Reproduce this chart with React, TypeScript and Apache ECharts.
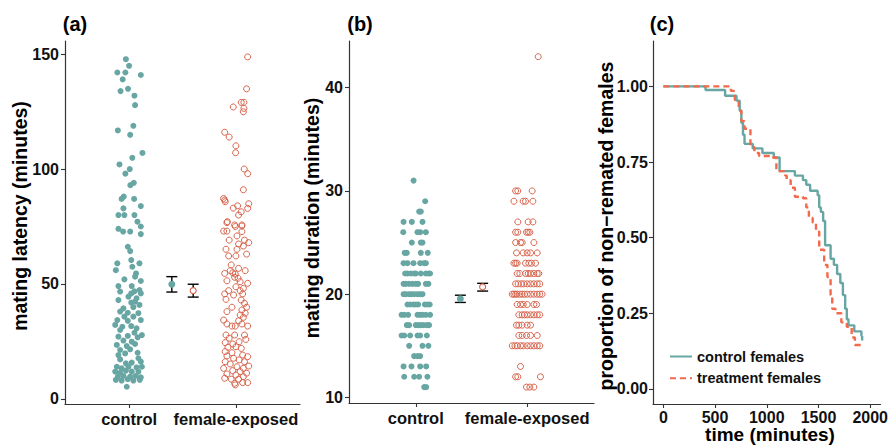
import React, { useEffect, useRef } from "react";
import * as echarts from "echarts";

const FONT = "'Liberation Sans', Arial, Helvetica, sans-serif";
const TEAL = "#68a6a3";
const RED = "#d8634b";
const DASH_RED = "#f4694b";

// ---------- panel (a): mating latency, [jitter offset, minutes] ----------
const latencyControl: [number, number][] = [
  [-0.03, 147.8], [0, 144.9], [-0.11, 142], [-0.035, 142], [0.11, 140.9], [-0.06, 139],
  [-0.08, 133.9], [-0.01, 134.9], [0.05, 131.9], [0.056, 127.8], [0.04, 118.8], [-0.105, 116.8],
  [0.01, 114.9], [0.125, 107], [0.03, 104.9], [-0.09, 102], [0.006, 100], [-0.035, 98],
  [0.012, 93], [0.044, 94], [-0.07, 87], [-0.05, 88], [0.047, 87], [0.11, 83.9], [-0.053, 82.9],
  [-0.1, 80], [-0.044, 80], [0.05, 80], [0.078, 77.1],
  [0.11, 75], [-0.1, 74], [-0.056, 72.8], [0.01, 72.8], [0.11, 71.7], [-0.012, 66.2], [0.01, 64.3],
  [0.02, 60.4], [-0.11, 59], [0.097, 59], [0.03, 57.5], [-0.124, 56], [0.065, 54.6], [0.056, 53.2],
  [-0.044, 52], [0.11, 51.3], [-0.1, 49.1], [0.025, 49.1], [0.097, 47.4], [-0.084, 46.7],
  [0.02, 45.9], [0.05, 46.8], [0.11, 45.9], [-0.006, 44.5], [0.07, 43.8], [-0.1, 43], [0.02, 41.9],
  [0.056, 42.3], [0.097, 40.9], [-0.053, 39.4], [0.04, 39.9], [-0.084, 38], [-0.012, 37.5],
  [0.087, 37.3], [-0.044, 35.8], [0.04, 35.8], [-0.11, 34.3], [-0.012, 34], [0.11, 34.3],
  [-0.13, 32.2], [-0.063, 31.4], [0.02, 31.7], [0.07, 30.7], [-0.084, 30], [0.05, 28.8],
  [0.12, 27.8], [-0.1, 27.1], [-0.012, 27.4], [0.08, 26.8], [-0.053, 25.4], [0.025, 24.9],
  [-0.115, 23.5], [-0.022, 23], [0.056, 23.9], [-0.084, 21.3], [0.01, 21.6], [-0.1, 19.1],
  [-0.037, 19.8], [0.08, 20.1], [-0.084, 17.2], [0.087, 17.7], [0.11, 16.2], [-0.03, 15.5],
  [0.025, 15.8], [-0.115, 14], [-0.07, 13.3], [-0.006, 14], [0.07, 13.7], [0.12, 14],
  [-0.13, 11.9], [-0.084, 11.4], [-0.03, 12.3], [0.025, 11.9], [0.087, 11.9], [-0.105, 9.7],
  [-0.053, 10], [0.01, 9.7], [0.063, 10], [0.11, 9.4], [-0.124, 8.3], [-0.07, 8], [-0.012, 8.6],
  [0.04, 8], [0.1, 8.3], [-0.022, 5.3],
];

const latencyExposed: [number, number][] = [
  [0.11, 148.8], [0.1, 134.9], [0.05, 129], [0.075, 129], [-0.025, 127], [0.075, 126.4],
  [0.07, 124.9], [-0.105, 116], [-0.063, 113.9], [0, 110.1], [-0.003, 107.1], [0.078, 100],
  [0.11, 98], [0.07, 91], [-0.115, 87.2], [-0.105, 86.5], [-0.1, 85.8], [0.016, 84],
  [-0.025, 83], [0.12, 84.9], [0.11, 82.9], [0.05, 81.4], [0.025, 80], [-0.08, 77.1],
  [-0.012, 75.7], [0.056, 75.7],
  [-0.084, 76.7], [-0.006, 75], [0.056, 75.2], [-0.115, 73], [-0.084, 73], [0.056, 72.8],
  [0.01, 70.9], [-0.063, 69.1], [0.08, 69.1], [0.12, 68], [0.025, 67.4], [0.07, 66.5],
  [-0.093, 65.1], [0.01, 65.1], [-0.068, 62.2], [0, 62.2], [0.1, 63], [-0.044, 58.3],
  [0.025, 56.8], [-0.105, 54.6], [-0.053, 55.8], [-0.03, 54.9], [-0.006, 54.3], [0.087, 55.8],
  [-0.012, 52.9], [0.02, 52.5], [-0.084, 51.4], [0.04, 51], [0.11, 50.3], [0, 48.8], [0.07, 48.1],
  [-0.068, 47.1], [0.04, 47.1], [-0.105, 45.7], [-0.022, 45.2], [0.063, 45.7], [-0.093, 43.3],
  [0.05, 43], [0.08, 41.6], [-0.037, 39.9], [0.1, 39.9], [0.056, 38.7], [-0.084, 38],
  [0.087, 37.3], [0.04, 36.5], [0.07, 35.5], [-0.115, 34.3], [0.025, 34], [-0.084, 32.6],
  [-0.037, 31.7], [0.056, 32.6], [0.11, 31.7], [-0.006, 31.7], [-0.093, 27.8], [-0.012, 27.8],
  [0.08, 27.8], [-0.063, 26.4], [0.093, 25.9], [-0.1, 24.5], [-0.03, 23.9], [0.03, 24.9],
  [-0.075, 22.5], [0, 22.7], [0.05, 22], [-0.1, 20.6], [-0.037, 20.1], [-0.084, 18.7],
  [0.063, 19.1], [0.11, 18.4], [-0.022, 17.7], [0.03, 17], [0.08, 16.2], [-0.1, 16.2],
  [-0.053, 15.2], [0.12, 14.3], [0.01, 14], [-0.115, 13.3], [0.07, 13.3], [-0.03, 12.3],
  [0.04, 11.9], [-0.084, 10.9], [0.1, 11.2], [0, 10.4], [0.07, 9.7], [-0.105, 9], [-0.044, 8.6],
  [0.025, 8.6], [-0.012, 6.8], [0.063, 7.1], [0.11, 7.1], [-0.006, 6.1],
];

// mean, lower, upper
const latencyMeans: [number, number, number][] = [
  [49.9, 46.5, 53.2],
  [47.1, 44.3, 49.9],
];

// ---------- panel (b): mating duration, [minutes, jitter offsets] ----------
const durationControlRows: [number, number[]][] = [
  [31, [-0.02]],
  [29, [0.084]],
  [28, [0.03, 0.045]],
  [27, [-0.11, -0.036, 0.06]],
  [26, [-0.113, 0.015, 0.039, 0.09]],
  [25, [-0.036, 0.045, 0.06]],
  [24, [-0.1, -0.081, 0.045, 0.107]],
  [23, [-0.11, -0.075, -0.021, 0.039, 0.075, 0.09]],
  [22, [-0.096, -0.075, -0.045, -0.015, 0, 0.045, 0.09, 0.113, 0.128]],
  [21, [-0.11, -0.09, -0.06, -0.03, 0, 0.021, 0.09, 0.113]],
  [20, [-0.11, -0.09, -0.06, -0.039, -0.015, 0.015, 0.039, 0.06]],
  [19, [-0.075, -0.051, -0.021, 0, 0.021, 0.081, 0.104, 0.125]],
  [18, [-0.128, -0.104, -0.069, 0.015, 0.039, 0.06, 0.09, 0.128]],
  [17, [-0.081, -0.06, 0, 0.021, 0.045, 0.069, 0.099, 0.119]],
  [16, [-0.128, -0.104, -0.051, 0.015, 0.039, 0.099]],
  [15, [-0.06, 0.06, 0.113]],
  [14, [-0.015, 0.015, 0.039]],
  [13, [-0.11, -0.039, 0.039, 0.093]],
  [12, [-0.104, -0.015, 0.03, 0.104]],
  [11, [0.075, 0.093]],
];

const durationExposedRows: [number, number[]][] = [
  [43, [0.099]],
  [30, [-0.104, -0.084, 0.045]],
  [29, [-0.119, -0.036, -0.015, 0.051]],
  [27, [-0.084, 0.009, 0.051]],
  [26, [-0.104, -0.084, -0.006, 0.009, 0.024]],
  [25, [-0.104, -0.06, -0.045, 0.06]],
  [24, [-0.096, -0.036, 0, 0.03, 0.09]],
  [23, [-0.119, -0.104, -0.09, -0.015, 0.015, 0.039, 0.075]],
  [22, [-0.09, -0.066, -0.015, 0.009, 0.03, 0.06, 0.09, 0.104]],
  [21, [-0.104, -0.081, -0.054, -0.03, 0, 0.03, 0.06, 0.09, 0.113]],
  [20, [-0.134, -0.119, -0.104, -0.09, -0.066, -0.045, -0.024, 0, 0.03, 0.06, 0.09, 0.113, 0.134]],
  [19, [-0.09, -0.06, -0.036, 0, 0.06, 0.084]],
  [18, [-0.075, -0.045, -0.024, 0, 0.03, 0.06, 0.09, 0.113]],
  [17, [-0.096, -0.075, -0.045, 0, 0.03]],
  [16, [-0.075, -0.045, -0.006, 0.03, 0.09]],
  [15, [-0.134, -0.11, -0.09, -0.06, -0.036, 0, 0.03, 0.06, 0.09, 0.113]],
  [13, [-0.06]],
  [12, [-0.104, -0.084, 0.119]],
  [11, [-0.006, 0.024, 0.06]],
];

const durationMeans: [number, number, number][] = [
  [19.55, 19.2, 19.9],
  [20.7, 20.3, 21.05],
];

// ---------- panel (c): proportion of non-remated females ----------
const timeControl = [0, 408, 597, 707, 738, 754, 770, 785, 864, 958, 1068, 1124, 1272, 1350, 1382, 1419, 1492, 1507, 1523, 1545, 1564, 1617, 1649, 1680, 1711, 1736, 1758, 1774, 1790, 1846, 1915, 1922];
const survControl = [1, 0.988, 0.969, 0.953, 0.92, 0.88, 0.84, 0.81, 0.795, 0.78, 0.765, 0.72, 0.705, 0.69, 0.675, 0.655, 0.64, 0.6, 0.585, 0.555, 0.475, 0.43, 0.41, 0.38, 0.35, 0.31, 0.265, 0.23, 0.21, 0.19, 0.175, 0.16];
const timeTreatment = [0, 653, 691, 729, 754, 785, 842, 880, 926, 1052, 1093, 1178, 1193, 1231, 1272, 1350, 1382, 1407, 1444, 1476, 1507, 1555, 1586, 1617, 1633, 1664, 1721, 1774, 1821, 1852, 1915];
const survTreatment = [1, 0.985, 0.955, 0.92, 0.885, 0.86, 0.8, 0.78, 0.77, 0.765, 0.72, 0.705, 0.69, 0.665, 0.635, 0.63, 0.6, 0.565, 0.55, 0.52, 0.46, 0.41, 0.37, 0.31, 0.265, 0.25, 0.22, 0.205, 0.17, 0.145, 0.145];

const groupLabels = ["control", "female-exposed"];
const groupPos = [1, 2];
const meanPos = [1.4, 1.6];
const latencyTicks = [0, 50, 100, 150];
const durationTicks = [10, 20, 30, 40];
const propTicks = [0, 0.25, 0.5, 0.75, 1];
const timeTicks = [0, 500, 1000, 1500, 2000];
const legendNames = ["control females", "treatment females"];

const lineAxis = { show: true, onZero: false, lineStyle: { color: "#333", width: 1.2 } };
const labelStyle = { color: "#111", fontSize: 16, fontWeight: "bold" as const, fontFamily: FONT };

function catXAxis(gridIndex: number) {
  return {
    type: "value",
    gridIndex,
    min: 0.4,
    max: 2.6,
    axisLine: lineAxis,
    splitLine: { show: false },
    axisTick: { show: true, length: 4, customValues: groupPos, lineStyle: { color: "#333", width: 1.1 } },
    axisLabel: {
      ...labelStyle,
      fontSize: 16.5,
      margin: 6,
      customValues: groupPos,
      formatter: (v: number) => groupLabels[Math.round(v) - 1] ?? "",
    },
  };
}

function valAxis(gridIndex: number, min: number, max: number, ticks: number[], fmt?: (v: number) => string, margin = 6) {
  return {
    type: "value",
    gridIndex,
    min,
    max,
    axisLine: lineAxis,
    splitLine: { show: false },
    axisTick: { show: true, length: 4, customValues: ticks, lineStyle: { color: "#333", width: 1.1 } },
    axisLabel: { ...labelStyle, margin, customValues: ticks, formatter: fmt ?? ((v: number) => String(v)) },
  };
}

const rowsToPoints = (rows: [number, number[]][], center: number) =>
  rows.flatMap(([v, offs]) => offs.map((o) => [center + o, v]));

const errorBarSeries = (means: [number, number, number][], idx: number) => ({
  type: "custom",
  xAxisIndex: idx,
  yAxisIndex: idx,
  clip: false,
  z: 3,
  data: means.map((m, i) => [meanPos[i], m[0], m[1], m[2]]),
  renderItem: (_p: any, api: any) => {
    const x = api.value(0);
    const lo = api.coord([x, api.value(2)]);
    const hi = api.coord([x, api.value(3)]);
    const w = 5.5;
    const ls = { stroke: "#000", lineWidth: 1.4 };
    return {
      type: "group",
      children: [
        { type: "line", shape: { x1: lo[0], y1: lo[1], x2: hi[0], y2: hi[1] }, style: ls },
        { type: "line", shape: { x1: lo[0] - w, y1: lo[1], x2: lo[0] + w, y2: lo[1] }, style: ls },
        { type: "line", shape: { x1: hi[0] - w, y1: hi[1], x2: hi[0] + w, y2: hi[1] }, style: ls },
      ],
    };
  },
});

const meanSeries = (means: [number, number, number][], idx: number) => [
  {
    type: "scatter",
    xAxisIndex: idx,
    yAxisIndex: idx,
    z: 4,
    symbolSize: 7,
    itemStyle: { color: TEAL, opacity: 1 },
    data: [[meanPos[0], means[0][0]]],
  },
  {
    type: "scatter",
    xAxisIndex: idx,
    yAxisIndex: idx,
    z: 4,
    symbolSize: 6,
    itemStyle: { color: "#fff", borderColor: RED, borderWidth: 1.1, opacity: 1 },
    data: [[meanPos[1], means[1][0]]],
  },
];

const filledPts = (idx: number, data: number[][]) => ({
  type: "scatter",
  xAxisIndex: idx,
  yAxisIndex: idx,
  symbolSize: 6,
  itemStyle: { color: TEAL, opacity: 1 },
  data,
});
const openPts = (idx: number, data: number[][]) => ({
  type: "scatter",
  xAxisIndex: idx,
  yAxisIndex: idx,
  symbolSize: 6,
  itemStyle: { color: "rgba(255,255,255,0)", borderColor: RED, borderWidth: 1, opacity: 1 },
  data,
});

const txt = (text: string, x: number, y: number, size: number, rotate = false) => ({
  type: "text",
  x,
  y,
  rotation: rotate ? Math.PI / 2 : 0,
  style: {
    text,
    fontSize: size,
    fontWeight: "bold",
    fontFamily: FONT,
    fill: "#000",
    align: "center",
    verticalAlign: "middle",
  },
});

export default function App() {
  const ref = useRef<HTMLDivElement>(null);
  useEffect(() => {
    document.body.style.margin = "0";
    const chart = echarts.init(ref.current!, null, { renderer: "svg", width: 891, height: 445 });
    const option: any = {
      animation: false,
      backgroundColor: "#fff",
      grid: [
        { left: 65, top: 41, width: 235, height: 363 },
        { left: 349, top: 41, width: 245, height: 362 },
        { left: 653, top: 41, width: 233, height: 363 },
      ],
      xAxis: [
        catXAxis(0),
        catXAxis(1),
        valAxis(2, -100, 2100, timeTicks, undefined, 5),
      ],
      yAxis: [
        valAxis(0, -2.2, 155.7, latencyTicks),
        valAxis(1, 9.46, 44.52, durationTicks),
        valAxis(2, -0.05, 1.15, propTicks, (v: number) => v.toFixed(2), 5),
      ],
      legend: {
        data: legendNames,
        orient: "vertical",
        left: 669,
        top: 349,
        padding: 0,
        itemWidth: 22,
        itemHeight: 14,
        itemGap: 6.7,
        itemStyle: { opacity: 0 },
        textStyle: { fontSize: 14.5, fontWeight: "bold", fontFamily: FONT, color: "#111" },
      },
      graphic: [
        txt("(a)", 75, 24, 20),
        txt("(b)", 360, 24, 20),
        txt("(c)", 662, 24, 20),
        txt("mating latency (minutes)", 20, 216, 19.5, true),
        txt("mating duration (minutes)", 312, 218, 19.5, true),
        txt("proportion of non\u2212remated females", 606, 226, 19.5, true),
        txt("time (minutes)", 770, 434.5, 19),
      ],
      series: [
        filledPts(0, latencyControl.map(([o, v]) => [groupPos[0] + o, v])),
        openPts(0, latencyExposed.map(([o, v]) => [groupPos[1] + o, v])),
        errorBarSeries(latencyMeans, 0),
        ...meanSeries(latencyMeans, 0),
        filledPts(1, rowsToPoints(durationControlRows, groupPos[0])),
        openPts(1, rowsToPoints(durationExposedRows, groupPos[1])),
        errorBarSeries(durationMeans, 1),
        ...meanSeries(durationMeans, 1),
        {
          name: legendNames[0],
          type: "line",
          xAxisIndex: 2,
          yAxisIndex: 2,
          step: "end",
          symbol: "none",
          lineStyle: { color: TEAL, width: 2.4 },
          itemStyle: { color: TEAL },
          data: timeControl.map((t, i) => [t, survControl[i]]),
        },
        {
          name: legendNames[1],
          type: "line",
          xAxisIndex: 2,
          yAxisIndex: 2,
          step: "end",
          symbol: "none",
          lineStyle: { color: DASH_RED, width: 2.4, type: [6, 4] },
          itemStyle: { color: DASH_RED },
          data: timeTreatment.map((t, i) => [t, survTreatment[i]]),
        },
      ],
    };
    chart.setOption(option);
    return () => chart.dispose();
  }, []);
  return <div ref={ref} style={{ width: 891, height: 445 }} />;
}
